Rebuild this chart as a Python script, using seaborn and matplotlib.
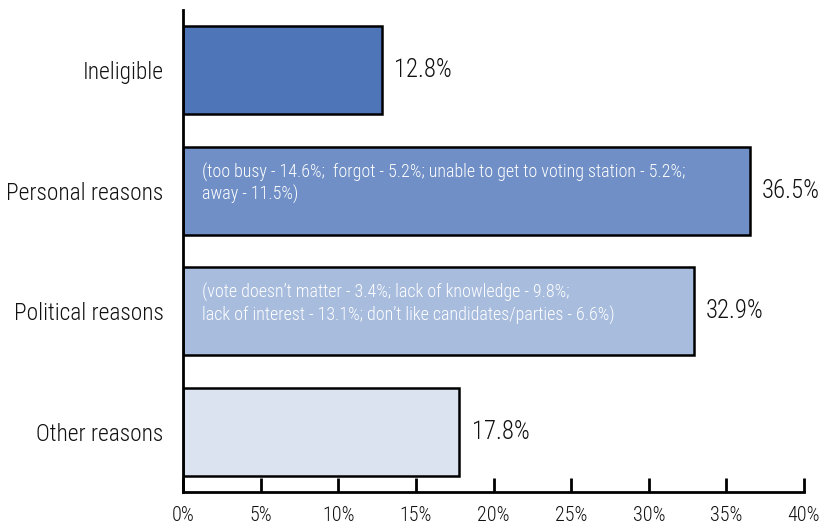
import matplotlib
matplotlib.use("Agg")
import matplotlib.pyplot as plt
import seaborn as sns
import pandas as pd

categories = ["Ineligible", "Personal reasons", "Political reasons", "Other reasons"]
values = [12.8, 36.5, 32.9, 17.8]
value_labels = ["12.8%", "36.5%", "32.9%", "17.8%"]
details = [
    "",
    "(too busy - 14.6%;  forgot - 5.2%; unable to get to voting station - 5.2%;\naway - 11.5%)",
    "(vote doesn\u2019t matter - 3.4%; lack of knowledge - 9.8%;\nlack of interest - 13.1%; don\u2019t like candidates/parties - 6.6%)",
    "",
]
colors = ["#4F75B9", "#6F8FC6", "#A8BCDE", "#DCE3F0"]
xticks = [0, 5, 10, 15, 20, 25, 30, 35, 40]
xtick_labels = ["0%", "5%", "10%", "15%", "20%", "25%", "30%", "35%", "40%"]

sns.set_theme(style="white")
plt.rcParams["font.family"] = ["Roboto Condensed", "DejaVu Sans"]
plt.rcParams["font.weight"] = "light"

df = pd.DataFrame({"category": categories, "value": values})

fig = plt.figure(figsize=(8.23, 5.24), dpi=100)
ax = fig.add_axes([183 / 823, 1 - 492 / 524, (804 - 183) / 823, (492 - 10) / 524])

sns.barplot(data=df, x="value", y="category", hue="category", palette=colors,
            legend=False, orient="h", width=0.73, edgecolor="black", linewidth=1.8,
            ax=ax, saturation=1)

ax.set_xlim(0, 40)
ax.set_ylim(3.5, -0.5)
ax.set_xlabel("")
ax.set_ylabel("")
ax.set_xticks(xticks)
ax.set_xticklabels(xtick_labels, fontsize=14.5, color="#111111", fontweight="light")
ax.tick_params(axis="x", bottom=True, direction="in", length=10, width=2, color="black", pad=10)
ax.tick_params(axis="y", left=False, length=0, pad=14, labelsize=16.8, labelcolor="#111111")
for t in ax.get_yticklabels():
    t.set_fontweight("light")

for s in ["top", "right"]:
    ax.spines[s].set_visible(False)
for s in ["left", "bottom"]:
    ax.spines[s].set_color("black")
    ax.spines[s].set_linewidth(2)

for i, (v, lab, det) in enumerate(zip(values, value_labels, details)):
    ax.text(v + 0.8, i, lab, va="center", ha="left", fontsize=17.8, color="#111111",
            fontweight="light")
    if det:
        ax.text(1.2, i - 0.06, det, va="center", ha="left", fontsize=13,
                color="white", linespacing=1.25, fontweight="light")

fig.savefig("out.png", dpi=100, facecolor="white")
